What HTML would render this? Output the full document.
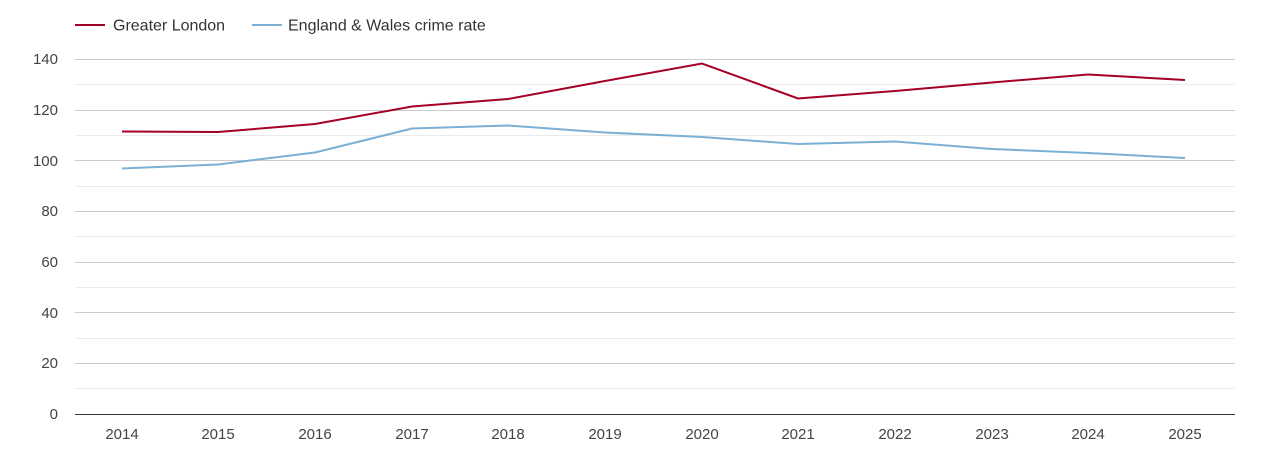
<!DOCTYPE html>
<html><head><style>
body{margin:0;background:#fff;}
svg text{font-family:"Liberation Sans",Arial,sans-serif;}
</style></head><body>
<svg width="1270" height="450" xmlns="http://www.w3.org/2000/svg">
<rect width="1270" height="450" fill="#fff"/>
<g stroke="#ebebeb" stroke-width="1">
<line x1="75" x2="1235" y1="388.5" y2="388.5"/><line x1="75" x2="1235" y1="338.5" y2="338.5"/>
<line x1="75" x2="1235" y1="287.5" y2="287.5"/><line x1="75" x2="1235" y1="236.5" y2="236.5"/>
<line x1="75" x2="1235" y1="186.5" y2="186.5"/><line x1="75" x2="1235" y1="135.5" y2="135.5"/>
<line x1="75" x2="1235" y1="84.5" y2="84.5"/>
</g>
<g stroke="#cccccc" stroke-width="1">
<line x1="75" x2="1235" y1="363.5" y2="363.5"/><line x1="75" x2="1235" y1="312.5" y2="312.5"/>
<line x1="75" x2="1235" y1="262.5" y2="262.5"/><line x1="75" x2="1235" y1="211.5" y2="211.5"/>
<line x1="75" x2="1235" y1="160.5" y2="160.5"/><line x1="75" x2="1235" y1="110.5" y2="110.5"/>
<line x1="75" x2="1235" y1="59.5" y2="59.5"/>
</g>
<line x1="75" x2="1235" y1="414.5" y2="414.5" stroke="#333" stroke-width="1"/>
<g fill="#444" font-size="15" text-anchor="end">
<text x="58" y="419">0</text><text x="58" y="368">20</text><text x="58" y="318">40</text>
<text x="58" y="267">60</text><text x="58" y="216">80</text><text x="58" y="166">100</text>
<text x="58" y="115">120</text><text x="58" y="64">140</text>
</g>
<g fill="#444" font-size="15" text-anchor="middle">
<text x="122" y="439">2014</text><text x="218" y="439">2015</text><text x="315" y="439">2016</text>
<text x="412" y="439">2017</text><text x="508" y="439">2018</text><text x="605" y="439">2019</text>
<text x="702" y="439">2020</text><text x="798" y="439">2021</text><text x="895" y="439">2022</text>
<text x="992" y="439">2023</text><text x="1088" y="439">2024</text><text x="1185" y="439">2025</text>
</g>
<polyline fill="none" stroke="#7bafd4" stroke-width="2" points="122,168.5 218,164.5 315,152.5 412,128.5 508,125.5 605,132.5 702,137 798,144 895,141.5 992,149 1088,153 1185,158"/>
<polyline fill="none" stroke="#a50026" stroke-width="2" points="122,131.5 218,132 315,124 412,106.5 508,99 605,81 702,63.5 798,98.5 895,91 992,82.5 1088,74.5 1185,80"/>
<line x1="75" x2="105" y1="25" y2="25" stroke="#a50026" stroke-width="2"/>
<text x="113" y="30.5" font-size="16" fill="#333">Greater London</text>
<line x1="252" x2="282" y1="25" y2="25" stroke="#7bafd4" stroke-width="2"/>
<text x="288" y="30.5" font-size="16" fill="#333">England &amp; Wales crime rate</text>
</svg>
</body></html>
